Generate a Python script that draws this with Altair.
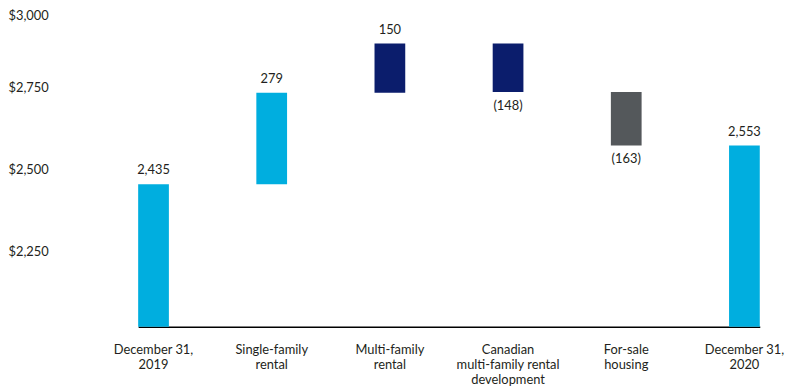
import altair as alt
import pandas as pd

# ---- data ----
categories = [
    "December 31,|2019",
    "Single-family|rental",
    "Multi-family|rental",
    "Canadian|multi-family rental|development",
    "For-sale|housing",
    "December 31,|2020",
]
changes = [2435, 279, 150, -148, -163, 2553]
kinds = ["total", "delta", "delta", "delta", "delta", "total"]
groups = ["Balance", "Balance", "Multi-family", "Multi-family", "For-sale", "Balance"]
y_ticks = [2250, 2500, 2750, 3000]
baseline = 2000

rows = []
running = 0
for cat, ch, kind, grp in zip(categories, changes, kinds, groups):
    if kind == "total":
        lo, hi = baseline, ch
        running = ch
        label = f"{ch:,}"
        up = True
    else:
        start = running
        running = running + ch
        lo, hi = min(start, running), max(start, running)
        label = f"{ch:,}" if ch >= 0 else f"({-ch:,})"
        up = ch >= 0
    rows.append(dict(cat=cat, lo=lo, hi=hi, label=label, up=up, grp=grp))
df = pd.DataFrame(rows)

FONT = "Lato"
TEXT_COLOR = "#231f20"

xscale = alt.Scale(range=[131.5, 759.5], paddingInner=0.74, paddingOuter=0, round=False)
yscale = alt.Scale(domain=[2000, 3000], range=[320, -11], nice=False, zero=False)

x = alt.X(
    "cat:N",
    sort=categories,
    scale=xscale,
    axis=alt.Axis(
        title=None,
        labelAngle=0,
        labelExpr="split(datum.label, '|')",
        ticks=False,
        tickSize=0,
        domainColor="#000000",
        domainWidth=1.5,
        labelPadding=17,
        labelBaseline="top",
        labelFontSize=13,
        labelLineHeight=15,
        labelColor=TEXT_COLOR,
        labelFont=FONT,
    ),
)

bars = alt.Chart(df).mark_bar().encode(
    x=x,
    y=alt.Y(
        "lo:Q",
        scale=yscale,
        axis=alt.Axis(
            title=None,
            values=y_ticks,
            format="$,.0f",
            grid=False,
            domain=False,
            ticks=False,
            tickSize=0,
            labelAlign="left",
            labelPadding=0,
            labelBaseline="middle",
            labelOffset=alt.condition("datum.value == 3000", alt.value(17), alt.value(7)),
            labelFontSize=13,
            labelColor=TEXT_COLOR,
            labelFont=FONT,
        ),
    ),
    y2="hi:Q",
    color=alt.Color(
        "grp:N",
        scale=alt.Scale(
            domain=["Balance", "Multi-family", "For-sale"],
            range=["#00AEDF", "#0B1D6C", "#54585B"],
        ),
        legend=None,
    ),
)

above = alt.Chart(df).transform_filter("datum.up").mark_text(
    dy=-14, baseline="middle", fontSize=13, font=FONT, color=TEXT_COLOR
).encode(x=alt.X("cat:N", sort=categories, scale=xscale), y=alt.Y("hi:Q", scale=yscale), text="label:N")

below = alt.Chart(df).transform_filter("!datum.up").mark_text(
    dy=14, baseline="middle", fontSize=13, font=FONT, color=TEXT_COLOR
).encode(x=alt.X("cat:N", sort=categories, scale=xscale), y=alt.Y("lo:Q", scale=yscale), text="label:N")

chart = (
    alt.layer(bars, above, below)
    .properties(
        width=787,
        height=320,
        autosize=alt.AutoSizeParams(type="none"),
        padding={"left": 0, "top": 0, "right": 0, "bottom": 59},
        background="white",
    )
    .configure_view(strokeWidth=0)
)

chart.save("out.html", embed_options={"renderer": "svg", "actions": False})
